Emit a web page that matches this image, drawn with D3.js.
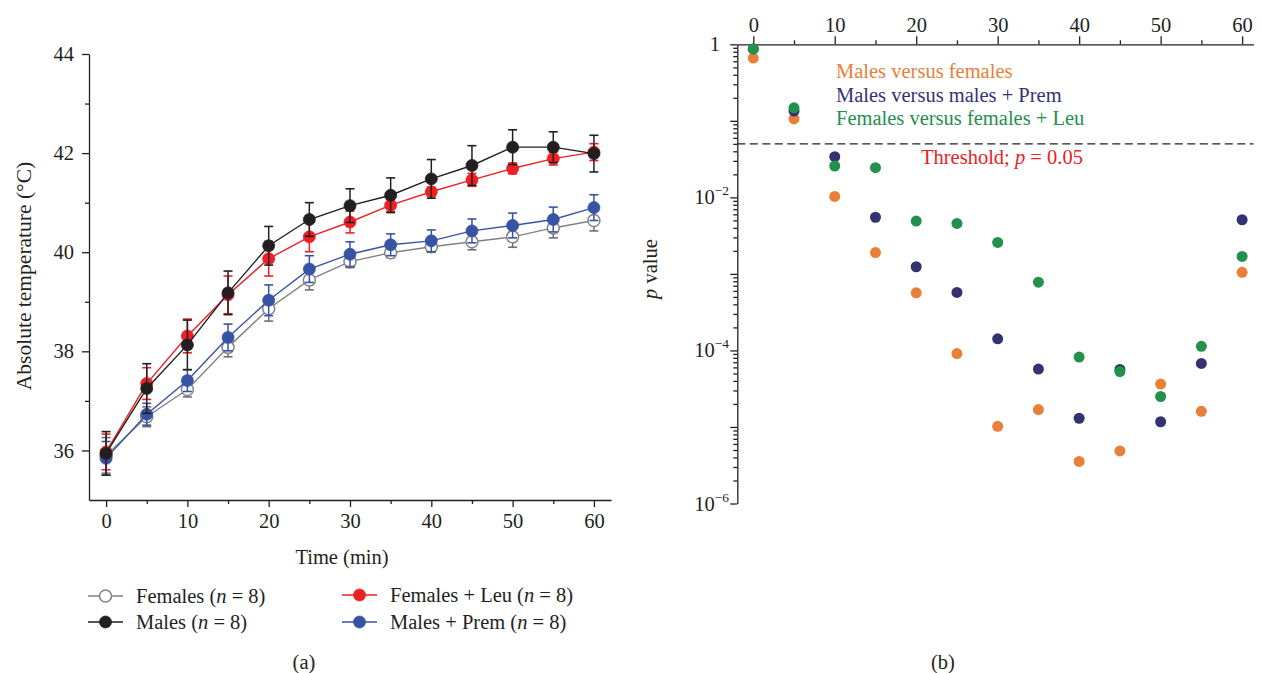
<!DOCTYPE html>
<html><head><meta charset="utf-8">
<script src="https://cdn.jsdelivr.net/npm/d3@7"></script>
<style>
body{margin:0;background:#fff;}
svg{fill:#231f20;}
text{font-family:"Liberation Serif","Times New Roman",serif;}
</style></head>
<body><svg id="c" width="1261" height="673"></svg>
<script>
// ---------- data (panel a) ----------
const times = [0,5,10,15,20,25,30,35,40,45,50,55,60];
const females      = [35.90,36.68,37.23,38.08,38.86,39.44,39.81,39.99,40.11,40.21,40.31,40.49,40.64];
const femalesErr   = [0.36,0.20,0.15,0.19,0.25,0.20,0.12,0.10,0.11,0.16,0.21,0.20,0.21];
const malesPrem    = [35.84,36.73,37.41,38.28,39.03,39.66,39.96,40.15,40.23,40.43,40.54,40.66,40.90];
const malesPremErr = [0.34,0.22,0.22,0.27,0.31,0.27,0.25,0.22,0.22,0.24,0.25,0.25,0.26];
const femalesLeu   = [35.97,37.35,38.31,39.14,39.87,40.31,40.61,40.95,41.22,41.46,41.69,41.89,42.02];
const femalesLeuErr= [0.36,0.32,0.34,0.38,0.35,0.30,0.22,0.13,0.09,0.13,0.11,0.13,0.17];
const males        = [35.94,37.25,38.13,39.18,40.13,40.66,40.94,41.15,41.48,41.75,42.12,42.12,41.99];
const malesErr     = [0.44,0.50,0.50,0.44,0.39,0.34,0.34,0.35,0.39,0.40,0.35,0.31,0.37];
const tempTicks = [36,38,40,42,44];
const tempMinor = [37,39,41,43];
const timeTicks = [0,10,20,30,40,50,60];
const timeMinor = [5,15,25,35,45,55];

// ---------- data (panel b) ----------
const pMalesVsFemales = [0.66,0.106,0.0103,0.0019,0.000566,9.1e-5,1.02e-5,1.69e-5,3.54e-6,4.87e-6,3.63e-5,1.6e-5,0.00105];
const pMalesVsPrem    = [0.87,0.134,0.034,0.0055,0.00124,0.000573,1.42e-4,5.7e-5,1.30e-5,5.65e-5,1.17e-5,6.76e-5,0.0051];
const pFemalesVsLeu   = [0.87,0.148,0.0257,0.0244,0.0049,0.00457,0.00258,7.8e-4,8.2e-5,5.3e-5,2.5e-5,1.13e-4,0.00169];
const threshold = 0.05;
const pExponents = [0,-1,-2,-3,-4,-5,-6];

const ink = "#231f20";
const FS = "20.5px";
const svg = d3.select("#c");
svg.append("rect").attr("width",1261).attr("height",673).attr("fill","#fff");

// ================= Panel (a) =================
const xa = d3.scaleLinear().domain([-2.1,62.1]).range([89,611]);
const ya = d3.scaleLinear().domain([35,44]).range([500,54]);
const ga = svg.append("g");

function styleAxis(g){
  g.selectAll("path,line").attr("stroke",ink).attr("stroke-width",1.3);
  g.selectAll("text").style("font-size",FS).attr("fill",ink);
}
const axB = ga.append("g").attr("transform","translate(0,500)")
  .call(d3.axisBottom(xa).tickValues(timeTicks).tickSize(7).tickSizeOuter(0).tickPadding(6));
styleAxis(axB);
const axBm = ga.append("g").attr("transform","translate(0,500)")
  .call(d3.axisBottom(xa).tickValues(timeMinor).tickSize(4).tickSizeOuter(0).tickFormat(""));
styleAxis(axBm); axBm.select("path").remove();
const axL = ga.append("g").attr("transform","translate(89,0)")
  .call(d3.axisLeft(ya).tickValues(tempTicks).tickSize(7).tickSizeOuter(0).tickPadding(8));
styleAxis(axL);
const axLm = ga.append("g").attr("transform","translate(89,0)")
  .call(d3.axisLeft(ya).tickValues(tempMinor).tickSize(4).tickSizeOuter(0).tickFormat(""));
styleAxis(axLm); axLm.select("path").remove();

ga.append("text").attr("x",342).attr("y",564).attr("text-anchor","middle").style("font-size",FS).style("fill",ink).text("Time (min)");
ga.append("text").attr("transform","translate(31,276) rotate(-90)").attr("text-anchor","middle").style("font-size","21.5px").style("fill",ink).text("Absolute temperature (°C)");

const seriesA = [
  {name:"Females", v:females, e:femalesErr, color:"#808285", bar:"#6d6e71", fill:"#fff"},
  {name:"Males + Prem", v:malesPrem, e:malesPremErr, color:"#3953a4", bar:"#3953a4", fill:"#3953a4"},
  {name:"Females + Leu", v:femalesLeu, e:femalesLeuErr, color:"#ed2024", bar:"#ed2024", fill:"#ed2024"},
  {name:"Males", v:males, e:malesErr, color:"#231f20", bar:"#231f20", fill:"#231f20"}
];
const line = d3.line().x(d=>xa(d[0])).y(d=>ya(d[1]));
seriesA.forEach(s=>{
  const g = ga.append("g");
  const pts = times.map((t,i)=>[t,s.v[i],s.e[i]]);
  pts.forEach(p=>{
    const x = xa(p[0]), y1 = ya(p[1]-p[2]), y2 = ya(p[1]+p[2]);
    g.append("line").attr("x1",x).attr("x2",x).attr("y1",y1).attr("y2",y2).attr("stroke",s.bar).attr("stroke-width",1.5);
    [y1,y2].forEach(yy=>g.append("line").attr("x1",x-4.5).attr("x2",x+4.5).attr("y1",yy).attr("y2",yy).attr("stroke",s.bar).attr("stroke-width",1.6));
  });
  g.append("path").datum(pts).attr("d",line).attr("fill","none").attr("stroke",s.color).attr("stroke-width",1.4);
  g.selectAll("circle").data(pts).join("circle")
    .attr("cx",d=>xa(d[0])).attr("cy",d=>ya(d[1])).attr("r",6)
    .attr("fill",s.fill).attr("stroke",s.color).attr("stroke-width",s.fill==="#fff"?1.5:0.8);
});

// legend (a)
const legA = [
  {s:seriesA[0], x:88, y:596, label:"Females"},
  {s:seriesA[3], x:88, y:622, label:"Males"},
  {s:seriesA[2], x:342, y:595, label:"Females + Leu"},
  {s:seriesA[1], x:342, y:622, label:"Males + Prem"}
];
legA.forEach(l=>{
  const g = ga.append("g");
  g.append("line").attr("x1",l.x).attr("x2",l.x+35).attr("y1",l.y).attr("y2",l.y).attr("stroke",l.s.color).attr("stroke-width",1.4);
  g.append("circle").attr("cx",l.x+17.5).attr("cy",l.y).attr("r",6).attr("fill",l.s.fill).attr("stroke",l.s.color).attr("stroke-width",l.s.fill==="#fff"?1.5:0.8);
  const t = g.append("text").attr("x",l.x+48).attr("y",l.y+6.5).style("font-size",FS).style("fill",ink);
  t.append("tspan").text(l.label+" (");
  t.append("tspan").style("font-style","italic").text("n");
  t.append("tspan").text(" = 8)");
});
ga.append("text").attr("x",304).attr("y",669).attr("text-anchor","middle").style("font-size",FS).style("fill",ink).text("(a)");

// ================= Panel (b) =================
const xb = d3.scaleLinear().domain([-1.96,61.4]).range([737.3,1253.5]);
const yb = d3.scaleLog().domain([1e-6,1]).range([503.5,44.3]);
const gb = svg.append("g");

const axT = gb.append("g").attr("transform","translate(0,44.3)")
  .call(d3.axisTop(xb).tickValues(timeTicks).tickSize(8).tickSizeOuter(0).tickPadding(4));
styleAxis(axT);
const axTm = gb.append("g").attr("transform","translate(0,44.3)")
  .call(d3.axisTop(xb).tickValues(timeMinor).tickSize(4).tickSizeOuter(0).tickFormat(""));
styleAxis(axTm); axTm.select("path").remove();

const decades = pExponents.map(e=>Math.pow(10,e));
const minorP = [];
pExponents.slice(1).forEach(e=>{ for(let k=2;k<=9;k++) minorP.push(k*Math.pow(10,e)); });
const axR = gb.append("g").attr("transform","translate(737.3,0)")
  .call(d3.axisLeft(yb).tickValues(decades).tickSize(7).tickSizeOuter(0).tickFormat(""));
styleAxis(axR);
const axRm = gb.append("g").attr("transform","translate(737.3,0)")
  .call(d3.axisLeft(yb).tickValues(minorP).tickSize(4).tickSizeOuter(0).tickFormat(""));
styleAxis(axRm); axRm.select("path").remove();
// decade labels every other decade
pExponents.filter(e=>e%2===0).forEach(e=>{
  const y = yb(Math.pow(10,e));
  const t = gb.append("text").attr("text-anchor","end").attr("y",y+7).style("font-size",FS).style("fill",ink);
  if(e===0){ t.attr("x",720).text("1"); }
  else {
    t.attr("x",729);
    t.append("tspan").text("10");
    t.append("tspan").attr("dy",-9).style("font-size","13.5px").text("\u2212"+Math.abs(e));
  }
});

// threshold
gb.append("line").attr("x1",737.3).attr("x2",1253.5).attr("y1",yb(threshold)).attr("y2",yb(threshold))
  .attr("stroke",ink).attr("stroke-width",1.3).attr("stroke-dasharray","8,4.5");
const th = gb.append("text").attr("x",921).attr("y",yb(threshold)+20).style("font-size",FS).style("fill","#ed2024");
th.append("tspan").text("Threshold; ");
th.append("tspan").style("font-style","italic").text("p");
th.append("tspan").text(" = 0.05");

const seriesB = [
  {label:"Males versus females", v:pMalesVsFemales, color:"#e8803a"},
  {label:"Males versus males + Prem", v:pMalesVsPrem, color:"#353274"},
  {label:"Females versus females + Leu", v:pFemalesVsLeu, color:"#22914d"}
];
seriesB.forEach((s,si)=>{
  gb.append("g").selectAll("circle").data(times.map((t,i)=>[t,s.v[i]])).join("circle")
    .attr("cx",d=>xb(d[0])).attr("cy",d=>yb(d[1])).attr("r",5.5).attr("fill",s.color);
  gb.append("text").attr("x",836).attr("y",78+si*23.5).style("font-size",FS).style("fill",s.color).text(s.label);
});

const yl = gb.append("text").attr("transform","translate(657,269) rotate(-90)").attr("text-anchor","middle").style("font-size",FS).style("fill",ink);
yl.append("tspan").style("font-style","italic").text("p");
yl.append("tspan").text(" value");
gb.append("text").attr("x",943).attr("y",669).attr("text-anchor","middle").style("font-size",FS).style("fill",ink).text("(b)");
</script></body></html>
